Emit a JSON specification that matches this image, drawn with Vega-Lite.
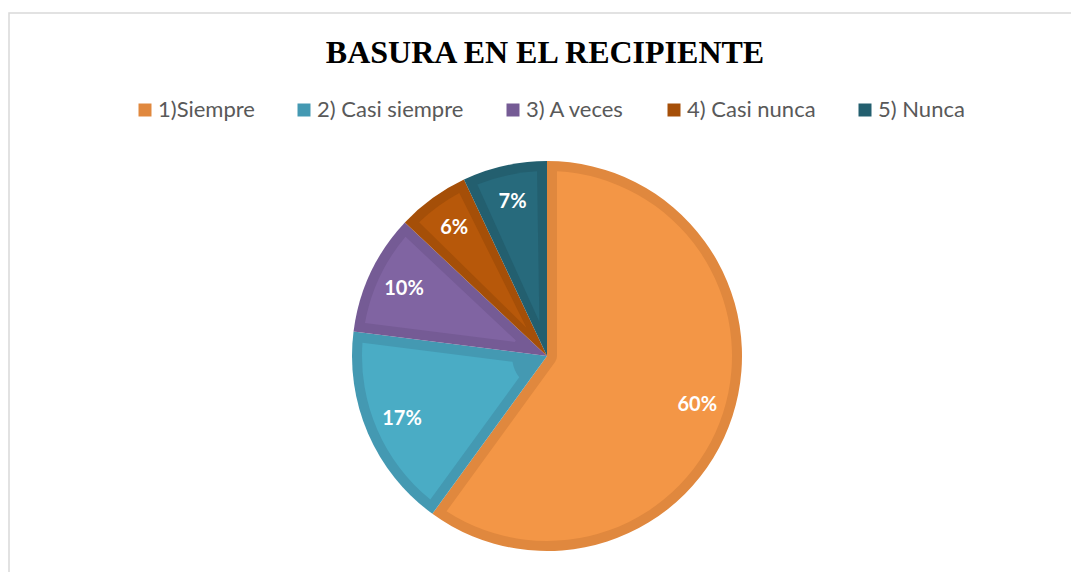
{
  "$schema": "https://vega.github.io/schema/vega-lite/v6.json",
  "width": 1076,
  "height": 686,
  "autosize": {"type": "none"},
  "padding": {"left": 9, "top": 13, "right": -14, "bottom": -127},
  "background": "white",
  "view": {"stroke": "#d9d9d9", "strokeWidth": 1.5, "fill": "white"},
  "title": {
    "text": "BASURA EN EL RECIPIENTE",
    "font": "Liberation Serif",
    "fontSize": 32,
    "fontWeight": "bold",
    "color": "#000000",
    "anchor": "middle",
    "frame": "group",
    "baseline": "alphabetic",
    "offset": -82,
    "dx": -2
  },
  "data": {
    "values": [
      {"cat": "1)Siempre", "value": 60, "label": "60%"},
      {"cat": "2) Casi siempre", "value": 17, "label": "17%"},
      {"cat": "3) A veces", "value": 10, "label": "10%"},
      {"cat": "4) Casi nunca", "value": 6, "label": "6%"},
      {"cat": "5) Nunca", "value": 7, "label": "7%"}
    ]
  },
  "layer": [
    {
      "mark": {"type": "arc", "radius": 195},
      "encoding": {
        "theta": {"field": "value", "type": "quantitative", "stack": true},
        "fill": {
          "field": "cat", "type": "nominal",
          "scale": {
            "domain": ["1)Siempre", "2) Casi siempre", "3) A veces", "4) Casi nunca", "5) Nunca"],
            "range": ["#E0883E", "#4499B2", "#755B95", "#A54F08", "#235F6F"]
          },
          "legend": {
            "orient": "none",
            "legendX": 125,
            "legendY": 86,
            "direction": "horizontal",
            "columns": 5,
            "title": null,
            "padding": 0,
            "symbolType": "square",
            "symbolSize": 169,
            "symbolStrokeWidth": 0,
            "symbolOpacity": 1,
            "labelFont": "Lato",
            "labelFontSize": 22,
            "labelColor": "#595959",
            "labelOffset": 2,
            "columnPadding": 38
          }
        },
        "order": {"field": "cat", "type": "nominal"}
      }
    },
    {
      "mark": {"type": "arc", "radius": 185, "radius2": 10, "padAngle": 0.108},
      "encoding": {
        "theta": {"field": "value", "type": "quantitative", "stack": true},
        "color": {
          "field": "cat", "type": "nominal", "legend": null,
          "scale": {
            "domain": ["1)Siempre", "2) Casi siempre", "3) A veces", "4) Casi nunca", "5) Nunca"],
            "range": ["#F39646", "#4AACC5", "#8064A2", "#B7580A", "#276A7C"]
          }
        },
        "fillOpacity": {"condition": {"test": "datum.cat === '1)Siempre'", "value": 1}, "value": 0},
        "order": {"field": "cat", "type": "nominal"}
      }
    },
    {
      "mark": {"type": "arc", "radius": 185, "radius2": 35, "padAngle": 0.106},
      "encoding": {
        "theta": {"field": "value", "type": "quantitative", "stack": true},
        "color": {"field": "cat", "type": "nominal", "legend": null},
        "fillOpacity": {"condition": {"test": "datum.cat === '1)Siempre'", "value": 0}, "value": 1},
        "order": {"field": "cat", "type": "nominal"}
      }
    },
    {
      "mark": {"type": "text", "radius": 158, "font": "Lato", "fontSize": 20, "fontWeight": "bold", "fill": "white"},
      "encoding": {
        "theta": {"field": "value", "type": "quantitative", "stack": true},
        "text": {"field": "label", "type": "nominal"},
        "order": {"field": "cat", "type": "nominal"}
      }
    }
  ]
}
